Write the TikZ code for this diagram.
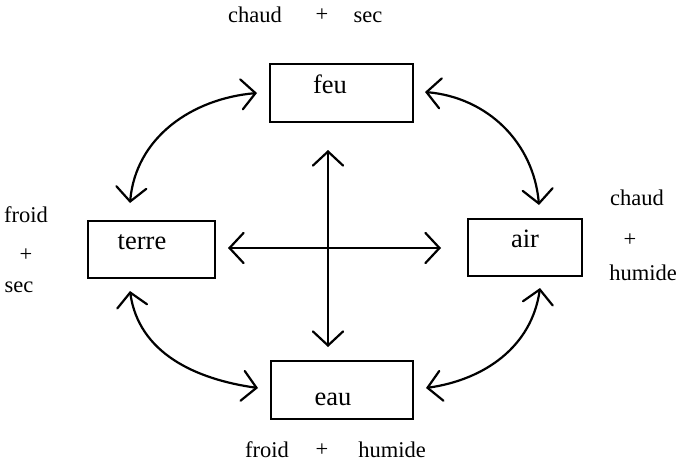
\documentclass[tikz,border=0pt]{standalone}
\usepackage{fontspec}
\setmainfont{Liberation Serif}
\usetikzlibrary{arrows.meta}
\begin{document}
\begin{tikzpicture}[x=1pt,y=1pt,
  elembox/.style={draw, line width=1.6pt, inner sep=0pt, minimum width=#1},
  elemtext/.style={anchor=base, font=\fontsize{26.5}{30}\selectfont},
  quality/.style={anchor=base, font=\fontsize{22.5}{26}\selectfont},
  plus/.style={anchor=center, font=\fontsize{22.5}{26}\selectfont},
  link/.style={line width=2.2pt, line cap=round,
    {Straight Barb[length=14pt,width=30pt,line cap=round]}-{Straight Barb[length=14pt,width=30pt,line cap=round]}}]
\useasboundingbox (0,0) rectangle (681,-463);

% the four elements
\node[elembox=143pt, minimum height=58pt] (feu)   at (341.5,-93)  {};
\node[elembox=114pt, minimum height=57pt] (air)   at (525,-247.5) {};
\node[elembox=127pt, minimum height=57pt] (terre) at (151.5,-249.5) {};
\node[elembox=142pt, minimum height=58pt] (eau)   at (342,-390)   {};

\node[elemtext] (tfeu)   at (330,-93)  {feu};
\node[elemtext] (tair)   at (525,-247) {air};
\node[elemtext] (tterre) at (142,-249) {terre};
\node[elemtext] (teau)   at (333,-405) {eau};

% qualities
\node[quality] (q1) at (255,-22) {chaud};
\node[plus]    (p1) at (322,-15) {+};
\node[quality] (q2) at (368,-22) {sec};

\node[quality] (q3) at (267,-457) {froid};
\node[plus]    (p2) at (322,-450) {+};
\node[quality] (q4) at (392,-457) {humide};

\node[quality] (q5) at (26,-222) {froid};
\node[plus]    (p3) at (26,-255) {+};
\node[quality] (q6) at (19,-292) {sec};

\node[quality] (q7) at (637,-205) {chaud};
\node[plus]    (p4) at (630,-240) {+};
\node[quality] (q8) at (643,-280) {humide};

% arrow end points
\coordinate (fw) at (257,-93);
\coordinate (fe) at (425,-92);
\coordinate (fs) at (328,-150);
\coordinate (tn) at (130,-203);
\coordinate (ts) at (130,-291);
\coordinate (te) at (228,-248);
\coordinate (an) at (539,-205);
\coordinate (as) at (540,-288);
\coordinate (aw) at (441,-248);
\coordinate (ew) at (258,-388);
\coordinate (ee) at (426,-388);
\coordinate (en) at (328,-347);

% oppositions
\draw[link] (fs) -- (en);
\draw[link] (te) -- (aw);

% transformations
\draw[link] (fw) to[out=185,in=85]  (tn);
\draw[link] (fe) to[out=-5,in=95]   (an);
\draw[link] (ts) to[out=-82,in=172] (ew);
\draw[link] (as) to[out=-98,in=8]   (ee);
\end{tikzpicture}
\end{document}
